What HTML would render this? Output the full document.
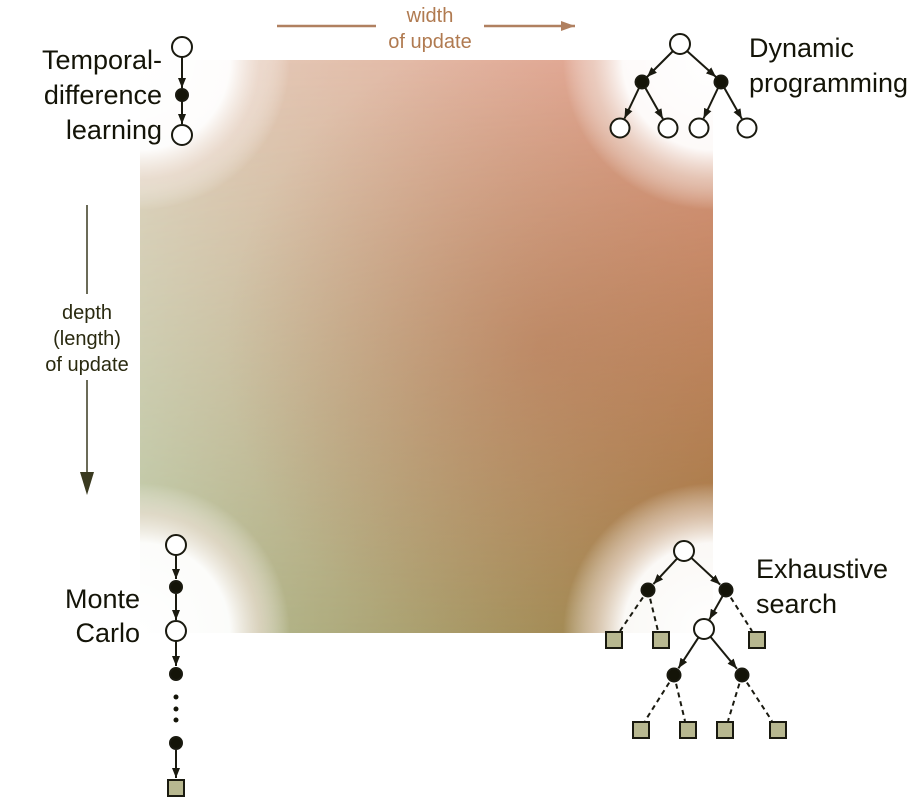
<!DOCTYPE html>
<html><head><meta charset="utf-8"><style>
html,body{margin:0;padding:0;background:#fff;}
svg{display:block;font-family:"Liberation Sans",Arial,sans-serif;}
</style></head><body>
<svg width="920" height="803" viewBox="0 0 920 803" xmlns="http://www.w3.org/2000/svg">
<defs>
<linearGradient id="top" x1="0" y1="0" x2="1" y2="0">
<stop offset="0" stop-color="#e4d4c2"/><stop offset="1" stop-color="#e29c88"/></linearGradient>
<linearGradient id="bot" x1="0" y1="0" x2="1" y2="0">
<stop offset="0" stop-color="#b8c6a0"/><stop offset="1" stop-color="#9c783c"/></linearGradient>
<linearGradient id="vm" x1="0" y1="0" x2="0" y2="1">
<stop offset="0" stop-color="#000"/><stop offset="1" stop-color="#fff"/></linearGradient>
<mask id="m"><rect x="140" y="60" width="573" height="573" fill="url(#vm)"/></mask>
<radialGradient id="dk" cx="0.7" cy="0.5" r="0.55">
<stop offset="0" stop-color="#b05a38" stop-opacity="0.3"/><stop offset="1" stop-color="#b05a38" stop-opacity="0"/></radialGradient>
<radialGradient id="cf" gradientUnits="userSpaceOnUse" r="150" cx="0" cy="0">
<stop offset="0" stop-color="#fff" stop-opacity="1"/><stop offset="0.6" stop-color="#fff" stop-opacity="0.95"/>
<stop offset="0.8" stop-color="#f2e4dc" stop-opacity="0.6"/><stop offset="1" stop-color="#fff" stop-opacity="0"/></radialGradient>
<clipPath id="sq"><rect x="140" y="60" width="573" height="573"/></clipPath>
<marker id="a" markerWidth="10" markerHeight="8" refX="10" refY="4" orient="auto" markerUnits="userSpaceOnUse">
<path d="M0,0 L10,4 L0,8 z" fill="#1a1a10"/></marker>
<marker id="ab" markerWidth="14" markerHeight="10" refX="14" refY="5" orient="auto" markerUnits="userSpaceOnUse">
<path d="M0,0 L14,5 L0,10 z" fill="#b08060"/></marker>
</defs>
<g clip-path="url(#sq)">
<rect x="140" y="60" width="573" height="573" fill="url(#top)"/>
<rect x="140" y="60" width="573" height="573" fill="url(#bot)" mask="url(#m)"/>
<rect x="140" y="60" width="573" height="573" fill="url(#dk)"/>
<circle cx="0" cy="0" r="150" fill="url(#cf)" transform="translate(140,60)"/>
<circle cx="0" cy="0" r="150" fill="url(#cf)" transform="translate(713,60)"/>
<circle cx="0" cy="0" r="150" fill="url(#cf)" transform="translate(140,633)"/>
<circle cx="0" cy="0" r="150" fill="url(#cf)" transform="translate(713,633)"/>
</g>

<!-- width arrow -->
<line x1="277" y1="26" x2="575" y2="26" stroke="#b08060" stroke-width="2.5" marker-end="url(#ab)"/>
<rect x="376" y="5" width="108" height="50" fill="#fff"/>
<text x="430" y="22" font-size="20" fill="#b07a50" text-anchor="middle">width</text>
<text x="430" y="48" font-size="20" fill="#b07a50" text-anchor="middle">of update</text>

<!-- depth arrow -->
<line x1="87" y1="205" x2="87" y2="480" stroke="#3a3a20" stroke-width="1.5"/>
<path d="M80,472 L94,472 L87,495 z" fill="#3a3a20"/>
<rect x="36" y="294" width="102" height="86" fill="#fff"/>
<text x="87" y="319" font-size="20" fill="#2a2a10" text-anchor="middle">depth</text>
<text x="87" y="345" font-size="20" fill="#2a2a10" text-anchor="middle">(length)</text>
<text x="87" y="371" font-size="20" fill="#2a2a10" text-anchor="middle">of update</text>

<!-- labels -->
<g font-size="27" fill="#141408">
<text x="162" y="69" text-anchor="end">Temporal-</text>
<text x="162" y="104" text-anchor="end">difference</text>
<text x="162" y="139" text-anchor="end">learning</text>
<text x="749" y="57">Dynamic</text>
<text x="749" y="92">programming</text>
<text x="756" y="578">Exhaustive</text>
<text x="756" y="613">search</text>
<text x="140" y="608" text-anchor="end">Monte</text>
<text x="140" y="642" text-anchor="end">Carlo</text>
</g>

<g stroke="#1a1a10" stroke-width="2" fill="none">
<line x1="182" y1="57" x2="182" y2="88" marker-end="url(#a)"/>
<line x1="182" y1="101" x2="182" y2="124" marker-end="url(#a)"/>
<line x1="673" y1="51" x2="647" y2="77" marker-end="url(#a)"/>
<line x1="687" y1="51" x2="716" y2="77" marker-end="url(#a)"/>
<line x1="639" y1="88" x2="624.5" y2="118.5" marker-end="url(#a)"/>
<line x1="645.4" y1="88" x2="662.9" y2="118.9" marker-end="url(#a)"/>
<line x1="718" y1="88" x2="703.5" y2="118.5" marker-end="url(#a)"/>
<line x1="724.4" y1="88" x2="741.9" y2="118.9" marker-end="url(#a)"/>
<line x1="677.2" y1="558.4" x2="653.4" y2="584.1" marker-end="url(#a)"/>
<line x1="691.3" y1="557.8" x2="720.2" y2="584.6" marker-end="url(#a)"/>
<line x1="722.6" y1="596" x2="709.4" y2="619.4" marker-end="url(#a)"/>
<line x1="698.5" y1="637.4" x2="678.4" y2="668.3" marker-end="url(#a)"/>
<line x1="710.4" y1="636.7" x2="736.9" y2="668.8" marker-end="url(#a)"/>
<g stroke-dasharray="5,4">
<line x1="648" y1="590" x2="620" y2="631"/>
<line x1="648" y1="590" x2="658" y2="631"/>
<line x1="726" y1="590" x2="752" y2="631"/>
<line x1="674" y1="675" x2="645" y2="721"/>
<line x1="674" y1="675" x2="685" y2="721"/>
<line x1="742" y1="675" x2="728" y2="721"/>
<line x1="742" y1="675" x2="772" y2="721"/>
</g>
<line x1="176" y1="555" x2="176" y2="579" marker-end="url(#a)"/>
<line x1="176" y1="594" x2="176" y2="620" marker-end="url(#a)"/>
<line x1="176" y1="641" x2="176" y2="666" marker-end="url(#a)"/>
<line x1="176" y1="750" x2="176" y2="778" marker-end="url(#a)"/>
</g>

<g stroke="#1a1a10" stroke-width="2">
<g fill="#fff">
<circle cx="182" cy="47" r="10"/><circle cx="182" cy="135" r="10"/>
<circle cx="680" cy="44" r="10"/>
<circle cx="620" cy="128" r="9.5"/><circle cx="668" cy="128" r="9.5"/><circle cx="699" cy="128" r="9.5"/><circle cx="747" cy="128" r="9.5"/>
<circle cx="684" cy="551" r="10"/><circle cx="704" cy="629" r="10"/>
<circle cx="176" cy="545" r="10"/><circle cx="176" cy="631" r="10"/>
</g>
<g fill="#141408">
<circle cx="182" cy="95" r="6"/>
<circle cx="642" cy="82" r="6.5"/><circle cx="721" cy="82" r="6.5"/>
<circle cx="648" cy="590" r="6.5"/><circle cx="726" cy="590" r="6.5"/>
<circle cx="674" cy="675" r="6.5"/><circle cx="742" cy="675" r="6.5"/>
<circle cx="176" cy="587" r="6"/><circle cx="176" cy="674" r="6"/><circle cx="176" cy="743" r="6"/>
</g>
<g fill="#b8b890">
<rect x="606" y="632" width="16" height="16"/><rect x="653" y="632" width="16" height="16"/><rect x="749" y="632" width="16" height="16"/>
<rect x="633" y="722" width="16" height="16"/><rect x="680" y="722" width="16" height="16"/><rect x="717" y="722" width="16" height="16"/><rect x="770" y="722" width="16" height="16"/>
<rect x="168" y="780" width="16" height="16"/>
</g>
</g>
<g fill="#141408">
<circle cx="176" cy="697" r="2.5"/><circle cx="176" cy="709" r="2.5"/><circle cx="176" cy="720" r="2.5"/>
</g>
</svg>
</body></html>
